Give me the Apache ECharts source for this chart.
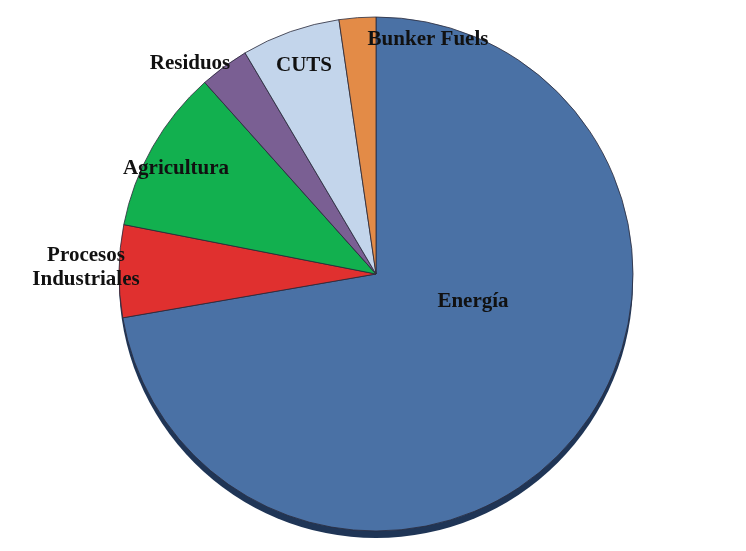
<!DOCTYPE html>
<html>
<head>
<meta charset="utf-8">
<script src="https://cdn.jsdelivr.net/npm/echarts@6/dist/echarts.min.js"></script>
<style>html,body{margin:0;padding:0;background:#fff}#c{width:746px;height:551px}</style>
</head>
<body>
<div id="c"></div>
<script>
var categories = ['Energía', 'Procesos\nIndustriales', 'Agricultura', 'Residuos', 'CUTS', 'Bunker Fuels'];
var values = [72.2, 5.8, 10.3, 3.1, 6.2, 2.3];
var colors = ['#4A71A5', '#E0302F', '#12B04F', '#7A5F93', '#C3D5EB', '#E38B47'];

var labelSpots = {
  'Energía': [473, 302],
  'Procesos\nIndustriales': [86, 268],
  'Agricultura': [176, 169],
  'Residuos': [190, 64],
  'CUTS': [304, 66],
  'Bunker Fuels': [428, 40]
};

var chart = echarts.init(document.getElementById('c'), null, {renderer: 'canvas'});
var font = '"Liberation Serif", "DejaVu Serif", serif';
chart.setOption({
  backgroundColor: '#ffffff',
  animation: false,
  series: [
    {
      type: 'pie',
      silent: true,
      center: [376, 281],
      radius: 257,
      startAngle: 90,
      label: {show: false},
      labelLine: {show: false},
      itemStyle: {color: '#1F3556', borderWidth: 0},
      data: [{value: 1, name: 'base'}],
      z: 1
    },
    {
      type: 'pie',
      center: [376, 274],
      radius: 257,
      startAngle: 90,
      clockwise: true,
      avoidLabelOverlap: false,
      itemStyle: {borderColor: '#2a2a3a', borderWidth: 0.8},
      label: {
        show: true,
        position: 'inside',
        formatter: '{b}',
        fontFamily: font,
        fontWeight: 'bold',
        fontSize: 21,
        lineHeight: 24,
        color: '#111',
        align: 'center'
      },
      labelLine: {show: false},
      labelLayout: function (p) {
        var s = labelSpots[p.text] || labelSpots[categories[p.dataIndex]];
        return {x: s[0], y: s[1], align: 'center', verticalAlign: 'middle'};
      },
      data: categories.map(function (c, i) {
        return {name: c, value: values[i], itemStyle: {color: colors[i]}};
      }),
      z: 2
    }
  ]
});
</script>
</body>
</html>
